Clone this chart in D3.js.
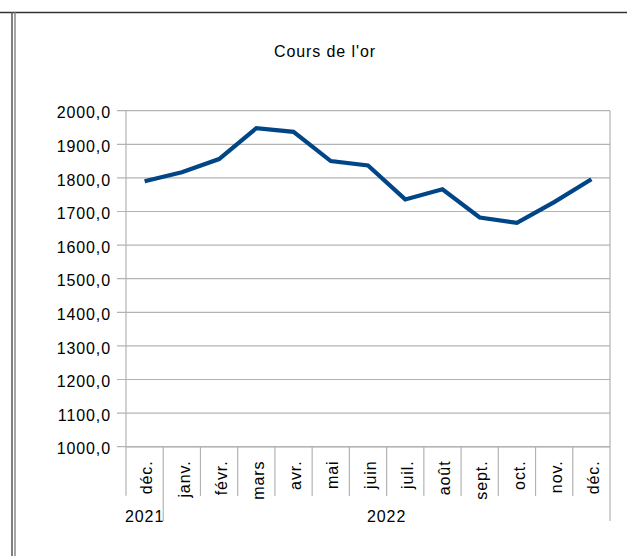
<!DOCTYPE html>
<html><head><meta charset="utf-8">
<script src="https://cdn.jsdelivr.net/npm/d3@7"></script>
<style>
html,body{margin:0;padding:0;background:#fff;}
svg{display:block;}
text{font-family:"Liberation Sans",Arial,sans-serif;fill:#000;}
</style></head>
<body>
<svg id="chart" width="627" height="556"></svg>
<script>
const title = "Cours de l'or";
const months = ["déc.","janv.","févr.","mars","avr.","mai","juin","juil.","août","sept.","oct.","nov.","déc."];
const years = [{label:"2021", start:0, end:1},{label:"2022", start:1, end:13}];
const values = [1790, 1817, 1856, 1948, 1937, 1850, 1837, 1736, 1766, 1682, 1666, 1728, 1796];
const yTicks = [1000,1100,1200,1300,1400,1500,1600,1700,1800,1900,2000];

const svg = d3.select("#chart");
const L = 126, R = 610, T = 110.7, B = 446.7;
const grid = "#b3b3b3";

// frame
svg.append("line").attr("x1",0).attr("x2",627).attr("y1",12.5).attr("y2",12.5).attr("stroke","#333").attr("stroke-width",1.5);
svg.append("line").attr("x1",12).attr("x2",12).attr("y1",12).attr("y2",556).attr("stroke","#555").attr("stroke-width",1.5);
svg.append("line").attr("x1",15).attr("x2",15).attr("y1",12).attr("y2",556).attr("stroke","#777").attr("stroke-width",1.3);

const x = d3.scaleBand().domain(d3.range(months.length)).range([L,R]).padding(0);
const y = d3.scaleLinear().domain([1000,2000]).range([B,T]);

// gridlines
svg.append("g").selectAll("line").data(yTicks).join("line")
  .attr("x1",L-9).attr("x2",R).attr("y1",d=>y(d)).attr("y2",d=>y(d))
  .attr("stroke",grid).attr("stroke-width",1.2);

// y labels
svg.append("g").selectAll("text").data(yTicks).join("text")
  .attr("x",111).attr("y",d=>y(d)+7.6).attr("text-anchor","end")
  .attr("font-size",16).attr("letter-spacing","0.9px")
  .text(d=>d3.format(".1f")(d).replace(".",","));

// plot borders
svg.append("line").attr("x1",L).attr("x2",L).attr("y1",T).attr("y2",B+49).attr("stroke",grid).attr("stroke-width",1.2);
svg.append("line").attr("x1",R).attr("x2",R).attr("y1",T).attr("y2",521).attr("stroke",grid).attr("stroke-width",1.2);
svg.append("line").attr("x1",L).attr("x2",R).attr("y1",B).attr("y2",B).attr("stroke",grid).attr("stroke-width",1.6);

// category ticks
const bounds = d3.range(1, months.length);
svg.append("g").selectAll("line").data(bounds).join("line")
  .attr("x1",i=>x(i)).attr("x2",i=>x(i)).attr("y1",B).attr("y2",i=> years.some(yy=>yy.start===i)?521:496)
  .attr("stroke",grid).attr("stroke-width",1.2);

// month labels
svg.append("g").selectAll("text").data(months).join("text")
  .attr("transform",(d,i)=>`translate(${x(i)+x.bandwidth()/2+7.7},460.5) rotate(-90)`)
  .attr("text-anchor","end").attr("font-size",16).attr("letter-spacing","0.9px")
  .text(d=>d);

// year labels
svg.append("g").selectAll("text").data(years).join("text")
  .attr("x",d=>(x(d.start)+ (d.end<months.length? x(d.end): R))/2)
  .attr("y",521.5).attr("text-anchor","middle").attr("font-size",16).attr("letter-spacing","0.9px")
  .text(d=>d.label);

// title
svg.append("text").attr("x",325).attr("y",56.7).attr("text-anchor","middle")
  .attr("font-size",16).attr("letter-spacing","0.9px").text(title);

// line
const line = d3.line().x((d,i)=>x(i)+x.bandwidth()/2).y(d=>y(d));
svg.append("path").datum(values).attr("d",line).attr("fill","none")
  .attr("stroke","#004586").attr("stroke-width",4.2).attr("stroke-linejoin","miter");
</script>
</body></html>
